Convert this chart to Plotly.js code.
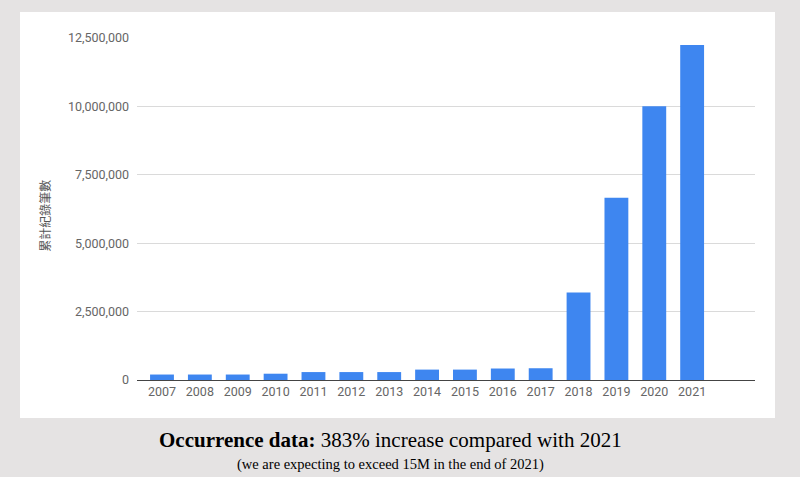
<!DOCTYPE html>
<html>
<head>
<meta charset="utf-8">
<script src="https://cdn.plot.ly/plotly-3.0.1.min.js"></script>
<style>
  html, body { margin: 0; padding: 0; background: #e5e3e3; }
  #chart { width: 800px; height: 477px; }
</style>
</head>
<body>
<div id="chart"></div>
<script>
// cumulative occurrence records per year
const years = ['2007', '2008', '2009', '2010', '2011', '2012', '2013', '2014',
               '2015', '2016', '2017', '2018', '2019', '2020', '2021'];
const records = [200000, 200000, 200000, 230000, 290000, 290000, 290000, 380000,
                 380000, 420000, 430000, 3200000, 6660000, 10010000, 12240000];
const yTicks = [0, 2500000, 5000000, 7500000, 10000000, 12500000];
const yTickText = ['0', '2,500,000', '5,000,000', '7,500,000', '10,000,000', '12,500,000'];

const trace = {
  type: 'bar',
  x: years,
  y: records,
  width: 0.63,
  marker: { color: '#3e86f0' },
  hoverinfo: 'x+y'
};

const layout = {
  width: 800,
  height: 477,
  margin: { l: 137, r: 45, t: 38, b: 97 },
  paper_bgcolor: '#e5e3e3',
  plot_bgcolor: 'rgba(0,0,0,0)',
  showlegend: false,
  font: { family: 'Roboto, Arial, sans-serif', color: '#666666', size: 12.5 },
  xaxis: {
    type: 'category',
    range: [-0.66, 15.66],
    showgrid: false,
    showline: true,
    linecolor: '#444444',
    linewidth: 1,
    ticks: '',
    tickfont: { size: 12.5, color: '#666666' },
    fixedrange: true
  },
  yaxis: {
    range: [0, 12500000],
    tickvals: yTicks,
    ticktext: yTickText,
    showgrid: true,
    gridcolor: '#dadada',
    gridwidth: 1,
    zeroline: false,
    ticks: '',
    ticklabelstandoff: 7,
    tickfont: { size: 12.5, color: '#666666' },
    fixedrange: true
  },
  shapes: [{
    type: 'rect',
    xref: 'paper', yref: 'paper',
    x0: -0.1893, x1: 1.0324, y0: -0.111, y1: 1.076,
    fillcolor: '#ffffff',
    line: { width: 0 },
    layer: 'below'
  }],
  annotations: [
    {
      // y-axis title placed by hand so it sits well clear of the tick labels
      xref: 'paper', yref: 'paper',
      x: -0.149, y: 0.48,
      xanchor: 'center', yanchor: 'middle',
      textangle: -90,
      showarrow: false,
      text: '累計紀錄筆數',
      font: { family: '"Noto Sans CJK TC", "Noto Sans", sans-serif', size: 12, color: '#555555' }
    },
    {
      xref: 'paper', yref: 'paper',
      x: 0.41, y: -0.175,
      xanchor: 'center', yanchor: 'middle',
      showarrow: false,
      text: '<b>Occurrence data:</b> 383% increase compared with 2021',
      font: { family: '"Liberation Serif", "Times New Roman", serif', size: 21, color: '#000000' }
    },
    {
      xref: 'paper', yref: 'paper',
      x: 0.41, y: -0.246,
      xanchor: 'center', yanchor: 'middle',
      showarrow: false,
      text: '(we are expecting to exceed 15M in the end of 2021)',
      font: { family: '"Liberation Serif", "Times New Roman", serif', size: 14.5, color: '#000000' }
    }
  ]
};

Plotly.newPlot('chart', [trace], layout, { displayModeBar: false, staticPlot: true });
</script>
</body>
</html>
